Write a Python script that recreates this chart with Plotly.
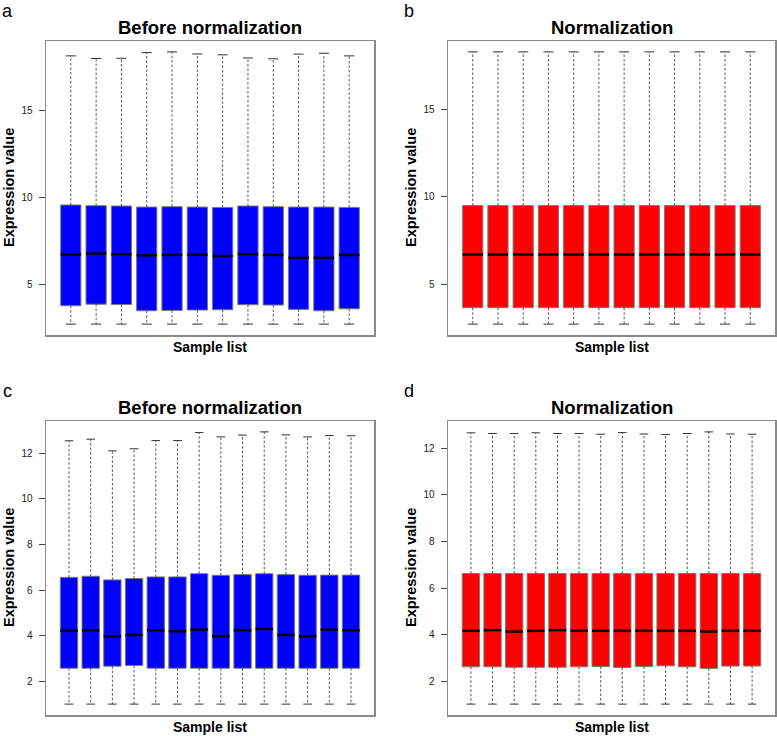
import plotly.graph_objects as go

# ---------------- data ----------------
# Panel a: before normalization (12 samples)
a_upper = [18.18, 18.03, 18.04, 18.37, 18.41, 18.29, 18.24, 18.06, 18.01, 18.28, 18.33, 18.18]
a_q3 = [9.57, 9.53, 9.51, 9.45, 9.47, 9.45, 9.43, 9.51, 9.47, 9.45, 9.45, 9.43]
a_med = [6.71, 6.77, 6.73, 6.66, 6.68, 6.70, 6.62, 6.73, 6.68, 6.52, 6.52, 6.68]
a_q1 = [3.75, 3.84, 3.82, 3.46, 3.48, 3.50, 3.52, 3.81, 3.79, 3.54, 3.46, 3.57]
a_lower = [2.69] * 12

# Panel b: normalization (12 samples)
b_upper = [18.31] * 12
b_q3 = [9.50] * 12
b_med = [6.69] * 12
b_q1 = [3.64] * 12
b_lower = [2.70] * 12

# Panel c: before normalization (14 samples)
c_upper = [12.54, 12.61, 12.10, 12.19, 12.55, 12.55, 12.90, 12.71, 12.79, 12.93, 12.80, 12.71, 12.77, 12.76]
c_q3 = [6.56, 6.61, 6.45, 6.51, 6.58, 6.58, 6.72, 6.65, 6.68, 6.72, 6.68, 6.65, 6.66, 6.66]
c_med = [4.22, 4.24, 3.98, 4.04, 4.24, 4.20, 4.27, 3.98, 4.24, 4.30, 4.04, 3.98, 4.27, 4.24]
c_q1 = [2.58, 2.58, 2.67, 2.70, 2.58, 2.58, 2.58, 2.58, 2.58, 2.58, 2.58, 2.58, 2.58, 2.58]
c_lower = [1.01] * 14

# Panel d: normalization (14 samples)
d_upper = [12.66, 12.63, 12.63, 12.66, 12.63, 12.63, 12.60, 12.67, 12.61, 12.59, 12.63, 12.70, 12.61, 12.60]
d_q3 = [6.63] * 14
d_med = [4.17, 4.20, 4.14, 4.17, 4.20, 4.17, 4.17, 4.17, 4.17, 4.17, 4.17, 4.14, 4.17, 4.17]
d_q1 = [2.63, 2.63, 2.61, 2.61, 2.61, 2.63, 2.64, 2.60, 2.64, 2.67, 2.63, 2.56, 2.66, 2.66]
d_lower = [1.03] * 14

titles = ["Before normalization", "Normalization", "Before normalization", "Normalization"]
letters = ["a", "b", "c", "d"]
y_ticks_top = [5, 10, 15]
y_ticks_bottom = [2, 4, 6, 8, 10, 12]
x_label = "Sample list"
y_label = "Expression value"
BLUE = "#0000FF"
RED = "#FF0000"

panels = [
    (a_lower, a_q1, a_med, a_q3, a_upper, BLUE, y_ticks_top),
    (b_lower, b_q1, b_med, b_q3, b_upper, RED, y_ticks_top),
    (c_lower, c_q1, c_med, c_q3, c_upper, BLUE, y_ticks_bottom),
    (d_lower, d_q1, d_med, d_q3, d_upper, RED, y_ticks_bottom),
]

W, H = 777, 736
# plot frames in pixels: (left, right, top, bottom)
frames = [(46, 374, 41, 335), (448, 775, 41, 335), (46, 374, 421, 715), (448, 775, 421, 715)]


def px(x):
    return x / W


def py(y):
    return 1 - y / H


fig = go.Figure()
layout = dict(width=W, height=H, margin=dict(l=0, r=0, t=0, b=0),
              paper_bgcolor="white", plot_bgcolor="white", showlegend=False,
              font=dict(family="Liberation Sans, Arial, sans-serif", color="#222"))
annotations = []

BOXW = 0.8
for k, (lo, q1, med, q3, up, col, yt) in enumerate(panels):
    n = len(med)
    xs = list(range(1, n + 1))
    xa = "x" if k == 0 else f"x{k+1}"
    ya = "y" if k == 0 else f"y{k+1}"
    # box bodies
    fig.add_trace(go.Box(x=xs, q1=q1, median=med, q3=q3, lowerfence=q1, upperfence=q3,
                         width=BOXW, fillcolor=col, line=dict(color="#7a7a7a", width=1),
                         boxpoints=False, whiskerwidth=0, xaxis=xa, yaxis=ya, hoverinfo="skip"))
    # whiskers (dashed)
    wx, wy = [], []
    for i in range(n):
        wx += [xs[i], xs[i], None, xs[i], xs[i], None]
        wy += [q3[i], up[i], None, q1[i], lo[i], None]
    fig.add_trace(go.Scatter(x=wx, y=wy, mode="lines", xaxis=xa, yaxis=ya,
                             line=dict(color="#555", width=1, dash="2.5px,2px"), hoverinfo="skip"))
    # staples
    sx, sy = [], []
    for i in range(n):
        sx += [xs[i] - BOXW / 4, xs[i] + BOXW / 4, None, xs[i] - BOXW / 4, xs[i] + BOXW / 4, None]
        sy += [up[i], up[i], None, lo[i], lo[i], None]
    fig.add_trace(go.Scatter(x=sx, y=sy, mode="lines", xaxis=xa, yaxis=ya,
                             line=dict(color="#333", width=1), hoverinfo="skip"))
    # medians
    mx, my = [], []
    for i in range(n):
        mx += [xs[i] - BOXW / 2, xs[i] + BOXW / 2, None]
        my += [med[i], med[i], None]
    fig.add_trace(go.Scatter(x=mx, y=my, mode="lines", xaxis=xa, yaxis=ya,
                             line=dict(color="black", width=2.5), hoverinfo="skip"))

    ymin, ymax = min(lo), max(up)
    ext = 0.04 * (ymax - ymin)
    L, R, T, B = frames[k]
    xkey = "xaxis" if k == 0 else f"xaxis{k+1}"
    ykey = "yaxis" if k == 0 else f"yaxis{k+1}"
    layout[xkey] = dict(domain=[px(L), px(R)], range=[0.5 - 0.04 * n, n + 0.5 + 0.04 * n],
                        showticklabels=False, ticks="", showgrid=False, zeroline=False,
                        showline=True, mirror=True, linecolor="#8a8a8a", linewidth=1.5,
                        anchor=ya, fixedrange=True)
    layout[ykey] = dict(domain=[py(B), py(T)], range=[ymin - ext, ymax + ext],
                        tickvals=yt, ticks="outside", ticklen=6, tickcolor="#444",
                        ticklabelstandoff=4,
                        tickfont=dict(size=10, color="#222"),
                        showgrid=False, zeroline=False,
                        showline=True, mirror=True, linecolor="#8a8a8a", linewidth=1.5,
                        anchor=xa, fixedrange=True)
    cx = (L + R) / 2
    # title
    annotations.append(dict(text=f"<b>{titles[k]}</b>", x=px(cx), y=py(T - 14),
                            xref="paper", yref="paper", showarrow=False,
                            xanchor="center", yanchor="middle",
                            font=dict(size=18.5, color="black")))
    # x label
    annotations.append(dict(text=f"<b>{x_label}</b>", x=px(cx), y=py(B + 12),
                            xref="paper", yref="paper", showarrow=False,
                            xanchor="center", yanchor="middle",
                            font=dict(size=14, color="black")))
    # y label
    annotations.append(dict(text=f"<b>{y_label}</b>", x=px(L - 37), y=py((T + B) / 2),
                            xref="paper", yref="paper", showarrow=False, textangle=-90,
                            xanchor="center", yanchor="middle",
                            font=dict(size=14.5, color="black")))
    # panel letter
    annotations.append(dict(text=letters[k], x=px(L - 39), y=py(T - 30),
                            xref="paper", yref="paper", showarrow=False,
                            xanchor="center", yanchor="middle",
                            font=dict(size=18, color="black")))

layout["annotations"] = annotations
fig.update_layout(**layout)
fig.write_html("out.html", config={"displayModeBar": False, "staticPlot": True},
               post_script="document.body.style.margin='0';"
                           "document.documentElement.style.overflow='hidden';")
